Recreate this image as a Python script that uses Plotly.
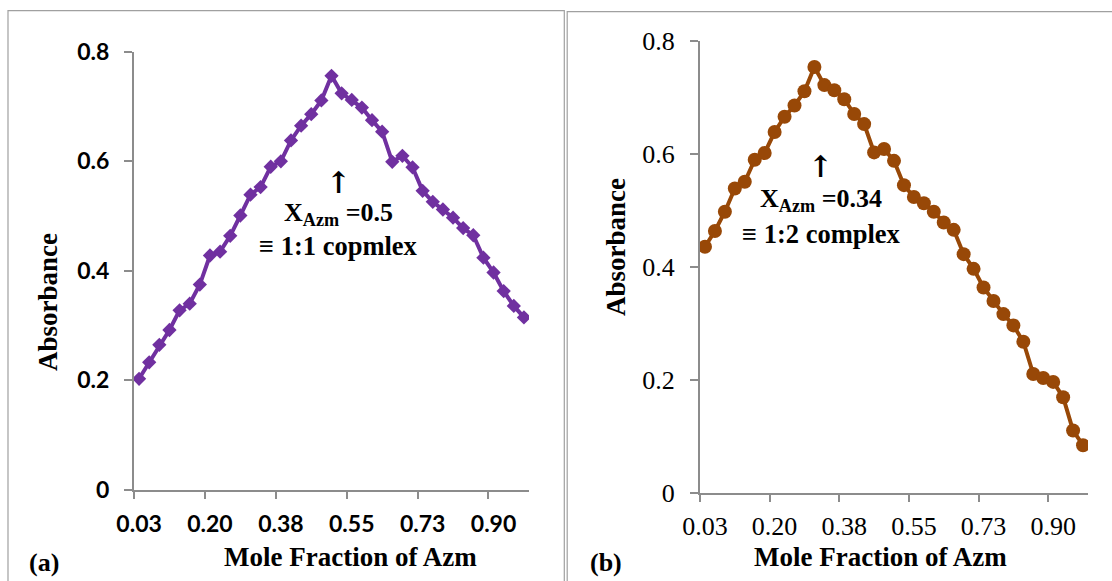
import plotly.graph_objects as go

W, H = 1112, 581

# ---- data ----
mole_fraction = [0.03, 0.055, 0.08, 0.105, 0.13, 0.155, 0.18, 0.205, 0.23, 0.255,
                 0.28, 0.305, 0.33, 0.355, 0.38, 0.405, 0.43, 0.455, 0.48, 0.505,
                 0.53, 0.555, 0.58, 0.605, 0.63, 0.655, 0.68, 0.705, 0.73, 0.755,
                 0.78, 0.805, 0.83, 0.855, 0.88, 0.905, 0.93, 0.955, 0.98]

absorbance_a = [0.203, 0.233, 0.265, 0.292, 0.328, 0.340, 0.375, 0.428, 0.435, 0.464,
                0.501, 0.539, 0.553, 0.590, 0.600, 0.638, 0.665, 0.686, 0.711, 0.756,
                0.724, 0.712, 0.698, 0.675, 0.654, 0.599, 0.610, 0.589, 0.546, 0.526,
                0.512, 0.497, 0.478, 0.465, 0.424, 0.397, 0.363, 0.336, 0.315]

absorbance_b = [0.436, 0.464, 0.498, 0.539, 0.551, 0.590, 0.602, 0.639, 0.666, 0.686,
                0.711, 0.754, 0.722, 0.713, 0.697, 0.671, 0.653, 0.603, 0.609, 0.588,
                0.545, 0.524, 0.513, 0.498, 0.479, 0.466, 0.423, 0.397, 0.364, 0.340,
                0.317, 0.297, 0.268, 0.211, 0.204, 0.197, 0.170, 0.111, 0.085]

x_tick_vals = [0.03, 0.205, 0.38, 0.555, 0.73, 0.905]
x_tick_text = ["0.03", "0.20", "0.38", "0.55", "0.73", "0.90"]
x_boundaries = [0.0175, 0.1925, 0.3675, 0.5425, 0.7175, 0.8925]
x_range = [0.0175, 0.9925]
y_tick_vals = [0, 0.2, 0.4, 0.6, 0.8]
y_tick_text = ["0", "0.2", "0.4", "0.6", "0.8"]

PURPLE = "#7030A0"
BROWN = "#984807"
AXIS = "#8C8C8C"
SERIF = "Liberation Serif"


def px(x):
    return x / W


def py(y):
    return 1 - y / H


fig = go.Figure()
fig.add_trace(go.Scatter(x=mole_fraction, y=absorbance_a, mode="lines+markers",
                         line=dict(color=PURPLE, width=4),
                         marker=dict(symbol="diamond", size=11, color=PURPLE),
                         xaxis="x", yaxis="y", showlegend=False))
fig.add_trace(go.Scatter(x=mole_fraction, y=absorbance_b, mode="lines+markers",
                         line=dict(color=BROWN, width=4),
                         marker=dict(symbol="circle", size=14, color=BROWN),
                         xaxis="x2", yaxis="y2", showlegend=False))


def xaxis(domain, font, anchor, standoff):
    return dict(domain=domain, anchor=anchor, range=x_range, showgrid=False, zeroline=False,
                automargin=False,
                showline=True, linecolor=AXIS, linewidth=2,
                tickmode="array", tickvals=x_tick_vals, ticktext=x_tick_text,
                ticks="", tickfont=font, ticklabelstandoff=standoff,
                minor=dict(tickmode="array", tickvals=x_boundaries, ticks="outside",
                           ticklen=7, tickwidth=2, tickcolor=AXIS, showgrid=False))


def yaxis(domain, font, anchor, standoff):
    return dict(domain=domain, anchor=anchor, range=[0, 0.8], showgrid=False, zeroline=False,
                automargin=False,
                showline=True, linecolor=AXIS, linewidth=2,
                tickmode="array", tickvals=y_tick_vals, ticktext=y_tick_text,
                ticks="outside", ticklen=8, tickwidth=2, tickcolor=AXIS,
                tickfont=font, ticklabelstandoff=standoff)


font_a = dict(family="Lato", size=23, color="black", weight="bold")
font_b = dict(family=SERIF, size=26, color="black")

fig.update_layout(
    template="none",
    width=W, height=H, margin=dict(l=0, r=0, t=0, b=0, pad=0),
    paper_bgcolor="white", plot_bgcolor="rgba(0,0,0,0)",
    xaxis=xaxis([px(134), px(529)], font_a, "y", 12),
    yaxis=yaxis([py(490), py(51.7)], font_a, "x", 10),
    xaxis2=xaxis([px(700), px(1088)], font_b, "y2", 8),
    yaxis2=yaxis([py(493.3), py(41)], font_b, "x2", 10),
)

# panel borders
fig.add_shape(type="rect", xref="paper", yref="paper", x0=px(8), x1=px(564.3),
              y0=py(600), y1=py(10.7), line=dict(color="#A0A0A0", width=1.2), layer="below")
fig.add_shape(type="rect", xref="paper", yref="paper", x0=px(567.2), x1=px(1125),
              y0=py(600), y1=py(11.7), line=dict(color="#A0A0A0", width=1.2), layer="below")


def ann(x, y, text, size=25, angle=0, family=SERIF):
    fig.add_annotation(x=px(x), y=py(y), xref="paper", yref="paper", text=text,
                       showarrow=False, xanchor="center", yanchor="middle",
                       textangle=angle, font=dict(family=family, size=size, color="black"))


ann(48, 302, "<b>Absorbance</b>", 27, -90)
ann(616, 247, "<b>Absorbance</b>", 27, -90)
ann(350, 557, "<b>Mole Fraction of Azm</b>", 27)
ann(880, 557, "<b>Mole Fraction of Azm</b>", 27)
ann(44, 562, "<b>(a)</b>", 26)
ann(606, 562, "<b>(b)</b>", 26)

ann(338.6, 182, "<b>↑</b>", 30, family="DejaVu Serif")
ann(338.5, 214, "<b>X<sub>Azm</sub> =0.5</b>", 26)
ann(338.5, 246, "<b>≡ 1:1 copmlex</b>", 26.5)

ann(820.6, 167, "<b>↑</b>", 30, family="DejaVu Serif")
ann(821, 200, "<b>X<sub>Azm</sub> =0.34</b>", 26)
ann(821, 233.5, "<b>≡ 1:2 complex</b>", 26.5)

fig.write_html("out.html")
